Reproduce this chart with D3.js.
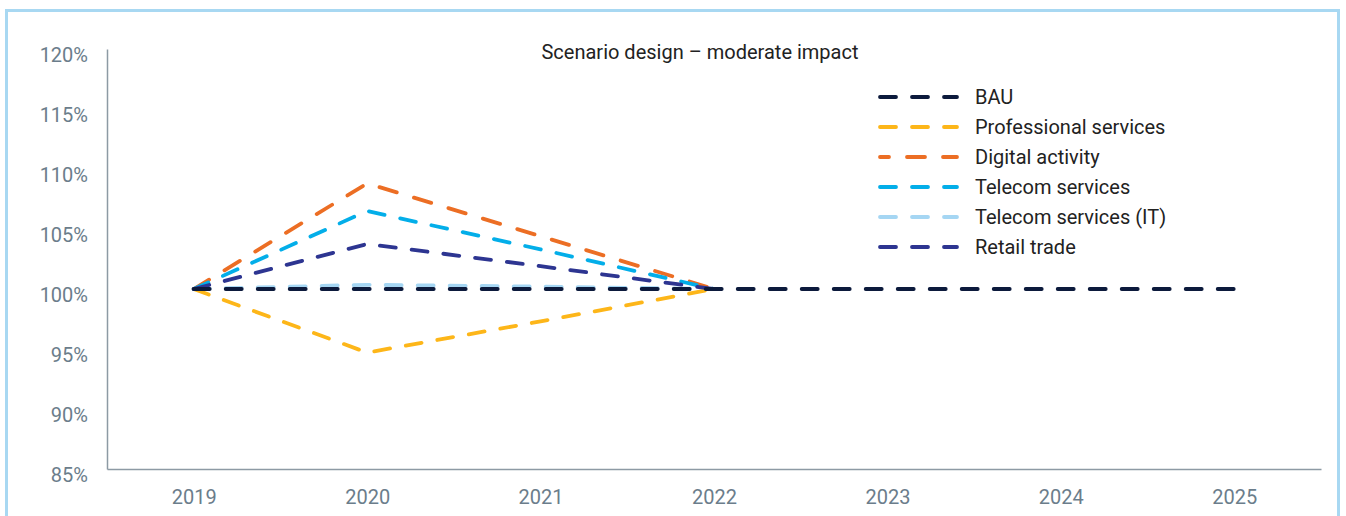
<!DOCTYPE html>
<html>
<head>
<meta charset="utf-8">
<script src="https://cdn.jsdelivr.net/npm/d3@7/dist/d3.min.js"></script>
<style>
  html, body { margin: 0; padding: 0; background: #fff; }
  svg { display: block; font-family: Roboto, "Noto Sans", sans-serif; }
</style>
</head>
<body>
<svg id="chart" width="1346" height="516"></svg>
<script>
// ---- data ----
const years = ["2019", "2020", "2021", "2022", "2023", "2024", "2025"];
const yTicks = [85, 90, 95, 100, 105, 110, 115, 120];
const seriesNames = ["BAU", "Professional services", "Digital activity", "Telecom services", "Telecom services (IT)", "Retail trade"];
const bau = [100, 100, 100, 100, 100, 100, 100];
const professional = [100, 94.7, 97.3, 100];
const digital = [100, 108.8, 104.4, 100];
const telecom = [100, 106.5, 103.3, 100];
const telecomIT = [100, 100.35, 100.2, 100];
const retail = [100, 103.75, 101.9, 100];
const title = "Scenario design – moderate impact";

const colors = {
  "BAU": "#0c1a3c",
  "Professional services": "#fdb619",
  "Digital activity": "#ec6e24",
  "Telecom services": "#03aee9",
  "Telecom services (IT)": "#a5d6f3",
  "Retail trade": "#2d3591"
};
const dashes = {
  "BAU": "16,16",
  "Professional services": "16,16",
  "Digital activity": "18,18",
  "Telecom services": "16,16",
  "Telecom services (IT)": "16,16",
  "Retail trade": "16,16"
};
const valuesByName = {
  "BAU": bau,
  "Professional services": professional,
  "Digital activity": digital,
  "Telecom services": telecom,
  "Telecom services (IT)": telecomIT,
  "Retail trade": retail
};

const svg = d3.select("#chart");

// frame
svg.append("rect")
  .attr("x", 6.5).attr("y", 10.5)
  .attr("width", 1332).attr("height", 530)
  .attr("fill", "none")
  .attr("stroke", "#a8d8f2")
  .attr("stroke-width", 3);

const x = d3.scalePoint().domain(years).range([107, 1321]).padding(0.5);
const y = d3.scaleLinear().domain([85, 120]).range([469, 49]);

// y axis
const yAxis = svg.append("g").attr("transform", "translate(107,0)")
  .call(d3.axisLeft(y).tickValues(yTicks).tickSize(0).tickPadding(19).tickFormat(d => d + "%"));
yAxis.select(".domain").attr("stroke", "#8d9aa4").attr("stroke-width", 1.5);
yAxis.selectAll("text")
  .attr("fill", "#6b7d8b")
  .attr("font-size", 20)
  .attr("dy", "0.62em")
  .attr("font-family", "Roboto, sans-serif");

// x axis
const xAxis = svg.append("g").attr("transform", "translate(0,469)")
  .call(d3.axisBottom(x).tickSize(0).tickPadding(21));
xAxis.select(".domain").attr("stroke", "#8d9aa4").attr("stroke-width", 1.5);
xAxis.selectAll("text")
  .attr("fill", "#6b7d8b")
  .attr("font-size", 20)
  .attr("font-family", "Roboto, sans-serif");

// title
svg.append("text")
  .attr("x", 700).attr("y", 59)
  .attr("text-anchor", "middle")
  .attr("font-size", 20)
  .attr("fill", "#222")
  .text(title);

// lines
const line = d3.line().x((d, i) => x(years[i])).y(d => y(d));
const drawOrder = ["Professional services", "Digital activity", "Telecom services", "Telecom services (IT)", "Retail trade", "BAU"];
drawOrder.forEach(name => {
  svg.append("path")
    .datum(valuesByName[name])
    .attr("d", line)
    .attr("fill", "none")
    .attr("stroke", colors[name])
    .attr("stroke-width", 3.8)
    .attr("stroke-linecap", "round")
    .attr("stroke-linejoin", "round")
    .attr("stroke-dasharray", dashes[name]);
});

// legend
const legend = svg.append("g");
seriesNames.forEach((name, i) => {
  const cy = 97 + i * 30;
  legend.append("line")
    .attr("x1", 880).attr("x2", 957)
    .attr("y1", cy).attr("y2", cy)
    .attr("stroke", colors[name])
    .attr("stroke-width", 3.8)
    .attr("stroke-linecap", "round")
    .attr("stroke-dasharray", dashes[name])
    .attr("stroke-dashoffset", name === "Digital activity" ? 9 : 0);
  legend.append("text")
    .attr("x", 975).attr("y", cy + 7)
    .attr("font-size", 20)
    .attr("fill", "#222")
    .text(name);
});
</script>
</body>
</html>
